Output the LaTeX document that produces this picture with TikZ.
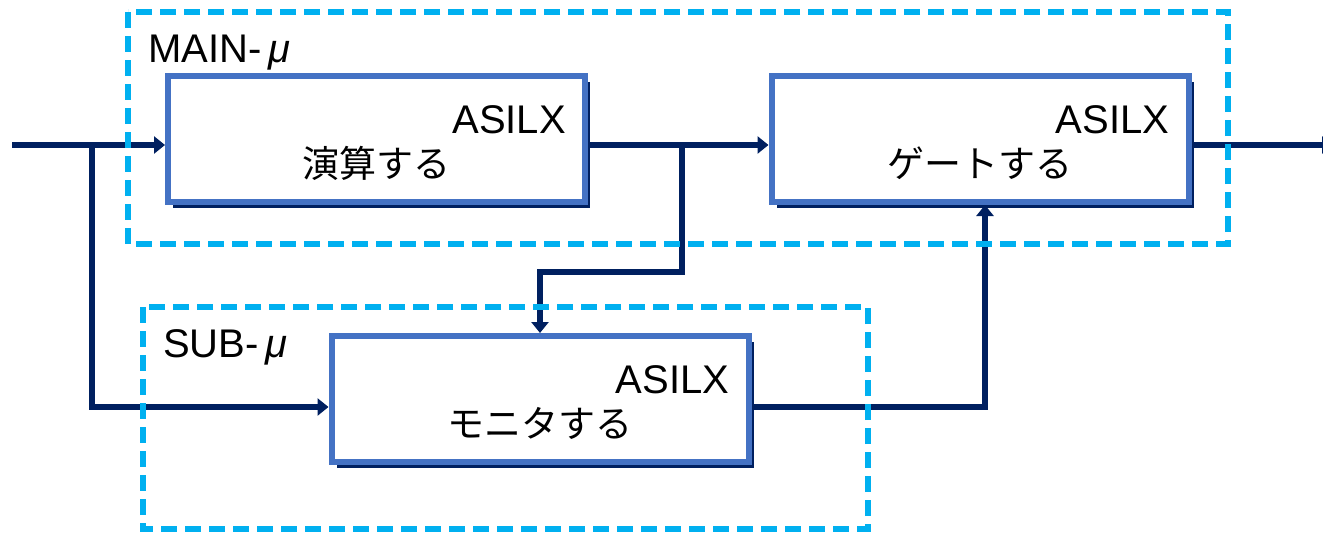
\documentclass[tikz,border=0pt]{standalone}
\usepackage{fontspec}
\setmainfont{Liberation Sans}
\newfontfamily\jpfont{Noto Sans CJK JP}
\usetikzlibrary{arrows.meta,shadows,calc}
\definecolor{navy}{HTML}{002060}
\definecolor{boxblue}{HTML}{4472C4}
\definecolor{cyanline}{HTML}{00B0F0}
\pgfdeclarelayer{bg}
\pgfsetlayers{bg,main}
\begin{document}
\begin{tikzpicture}[x=1pt,y=-1pt,
  blk/.style={draw=boxblue, line width=6pt, fill=white, minimum width=417pt, minimum height=126pt, inner sep=0pt,
    drop shadow={shadow xshift=5pt, shadow yshift=-6pt, fill=navy, opacity=1}},
  grp/.style={draw=cyanline, line width=5.5pt, dash pattern=on 16pt off 8pt},
  conn/.style={draw=navy, line width=5.5pt},
  arr/.style={conn, -{Triangle[length=11pt,width=17pt]}},
  asil/.style={anchor=base east, inner sep=0pt, font=\fontsize{40}{40}\selectfont},
  jp/.style={anchor=base, inner sep=0pt, font=\jpfont\fontsize{37}{37}\selectfont},
  grptitle/.style={anchor=base west, inner sep=0pt, font=\fontsize{40}{40}\selectfont},
]
\useasboundingbox (0,0) rectangle (1323,533);

\node[blk] (b1) at (376.5,139) {};
\node[blk] (b2) at (980,139) {};
\node[blk] (b3) at (540,399) {};

\node[asil] (a1) at ([xshift=-22pt,yshift=6pt]b1.east) {ASILX};
\node[asil] (a2) at ([xshift=-22pt,yshift=6pt]b2.east) {ASILX};
\node[asil] (a3) at ([xshift=-22pt,yshift=6pt]b3.east) {ASILX};
\node[jp] (t1) at ([yshift=-38pt]b1.center) {演算する};
\node[jp] (t2) at ([yshift=-38pt]b2.center) {ゲートする};
\node[jp] (t3) at ([yshift=-38pt]b3.center) {モニタする};

\node[grptitle] (gm) at (148,62) {MAIN-\,\textit{μ}};
\node[grptitle] (gs) at (163,357) {SUB-\,\textit{μ}};

\coordinate (in) at (12,145);
\coordinate (out) at (1333,145);
\coordinate (j1) at (92,145);
\coordinate (j2) at (92,407);
\coordinate (j3) at (682,145);
\coordinate (j4) at (682,272);
\coordinate (k) at (985,407);

\begin{pgfonlayer}{bg}
\draw[arr] (in) -- (in -| b1.west);
\draw[arr] (j1) -- (j2) -- (j2 -| b3.west);
\draw[arr] (b1.east |- in) -- (b2.west |- in);
\draw[arr] (j3) -- (j4) -| (b3.north);
\draw[arr] (b3.east |- k) -- (k) -- (k |- b2.south);
\draw[arr] (b2.east |- in) -- (out);
\draw[grp] (128,12) rectangle (1228,244);
\draw[grp] (143,307) rectangle (868,529);
\end{pgfonlayer}
\end{tikzpicture}
\end{document}
